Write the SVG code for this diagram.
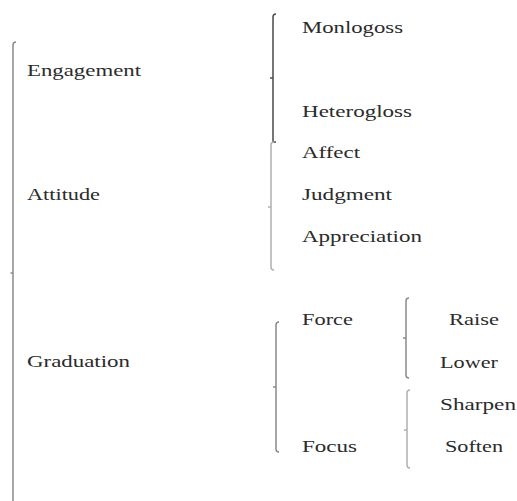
<svg xmlns="http://www.w3.org/2000/svg" width="517" height="501" viewBox="0 0 517 501">
<style>
text{font-family:"Liberation Serif","DejaVu Serif",serif;font-size:17px;fill:#2b2b2b;}
.br{fill:none;stroke:#8a8a8a;stroke-width:1.5;}
.dk{stroke:#4a4a4a;}
.lt{stroke:#b0b0b0;}
</style>
<rect width="517" height="501" fill="#ffffff"/>
<g id="connectors">
  <path class="br" d="M16,42 Q13,42 13,45 V501 M13,273 h-2.5"/>
  <path class="br dk" d="M276,14 Q273,14 273,17 V142 h3 M273,78 h-3"/>
  <path class="br lt" d="M274,142 Q271,142 271,145 V267 Q271,270 274,270 M271,207 h-3"/>
  <path class="br" d="M279,322 Q276,322 276,325 V449 Q276,452 279,452 M276,387 h-3"/>
  <path class="br" d="M409,298 Q406,298 406,301 V375 Q406,378 409,378 M406,338 h-3"/>
  <path class="br lt" d="M410,390 Q407,390 407,393 V465 Q407,468 410,468 M407,430 h-3"/>
</g>
<g id="engagement"><text x="27" y="76" textLength="114" lengthAdjust="spacingAndGlyphs">Engagement</text></g>
<g id="attitude"><text x="27" y="200" textLength="73" lengthAdjust="spacingAndGlyphs">Attitude</text></g>
<g id="graduation"><text x="27" y="367" textLength="103" lengthAdjust="spacingAndGlyphs">Graduation</text></g>
<g id="monlogoss"><text x="302" y="33" textLength="101" lengthAdjust="spacingAndGlyphs">Monlogoss</text></g>
<g id="heterogloss"><text x="302" y="117" textLength="110" lengthAdjust="spacingAndGlyphs">Heterogloss</text></g>
<g id="affect"><text x="302" y="158" textLength="58" lengthAdjust="spacingAndGlyphs">Affect</text></g>
<g id="judgment"><text x="302" y="200" textLength="90" lengthAdjust="spacingAndGlyphs">Judgment</text></g>
<g id="appreciation"><text x="302" y="242" textLength="120" lengthAdjust="spacingAndGlyphs">Appreciation</text></g>
<g id="force"><text x="302" y="325" textLength="51" lengthAdjust="spacingAndGlyphs">Force</text></g>
<g id="focus"><text x="302" y="452" textLength="55" lengthAdjust="spacingAndGlyphs">Focus</text></g>
<g id="raise"><text x="449" y="325" textLength="50" lengthAdjust="spacingAndGlyphs">Raise</text></g>
<g id="lower"><text x="440" y="368" textLength="58" lengthAdjust="spacingAndGlyphs">Lower</text></g>
<g id="sharpen"><text x="440" y="410" textLength="76" lengthAdjust="spacingAndGlyphs">Sharpen</text></g>
<g id="soften"><text x="445" y="452" textLength="58" lengthAdjust="spacingAndGlyphs">Soften</text></g>
</svg>
